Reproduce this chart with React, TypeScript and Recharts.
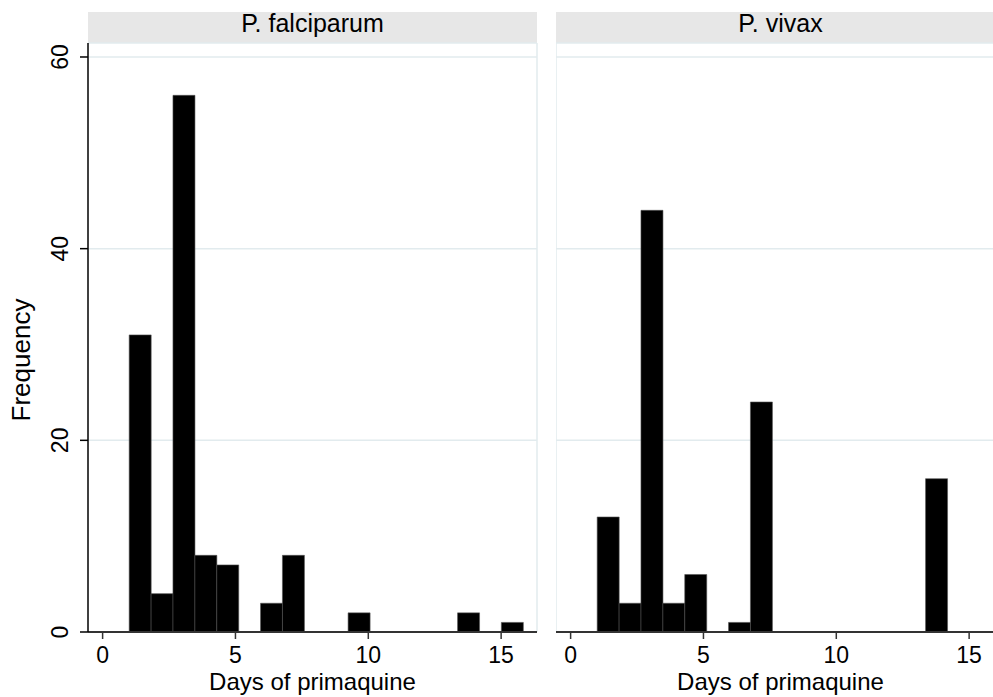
import React from 'react';
import { BarChart, Bar, XAxis, YAxis, CartesianGrid, ReferenceLine } from 'recharts';

// Histogram bins (days of primaquine)
const binStart = 1;
const binWidth = 0.824;
const falciparumCounts = [31, 4, 56, 8, 7, 0, 3, 8, 0, 0, 2, 0, 0, 0, 0, 2, 0, 1];
const vivaxCounts = [12, 3, 44, 3, 6, 0, 1, 24, 0, 0, 0, 0, 0, 0, 0, 16, 0, 0];
const panelTitles = ['P. falciparum', 'P. vivax'];
const xTicks = [0, 5, 10, 15];
const yTicks = [0, 20, 40, 60];
const xDomain: [number, number] = [-0.55, 16.35];
const yDomain: [number, number] = [0, 61.46];
const xTitle = 'Days of primaquine';
const yTitle = 'Frequency';

const FONT = '"Liberation Sans", Arial, Helvetica, sans-serif';
const GRID = '#e2ebee';

const toRows = (counts: number[]) =>
  counts.map((count, i) => ({ mid: binStart + (i + 0.5) * binWidth, count }));

const YTick = (props: any) => {
  const { x, y, payload } = props;
  return (
    <text
      transform={`translate(${x},${y}) rotate(-90)`}
      textAnchor="middle"
      fontSize={23}
      fill="#000"
      fontFamily={FONT}
    >
      {payload.value}
    </text>
  );
};

function Panel({ counts, showY, left, title }: { counts: number[]; showY: boolean; left: number; title: string }) {
  const chartWidth = showY ? 545 : 457;
  const plotLeft = showY ? 88 : 0;
  return (
    <>
      <div
        style={{
          position: 'absolute',
          left: left + plotLeft,
          top: 12,
          width: 449,
          height: 31,
          background: '#e7e7e7',
          textAlign: 'center',
          fontFamily: FONT,
          fontSize: 25,
          lineHeight: '23px',
          color: '#000',
          whiteSpace: 'nowrap',
        }}
      >
        {title}
      </div>
      <div
        style={{
          position: 'absolute',
          left: left + plotLeft,
          top: 670,
          width: 449,
          height: 25,
          textAlign: 'center',
          fontFamily: FONT,
          fontSize: 24,
          lineHeight: '24px',
          color: '#000',
          whiteSpace: 'nowrap',
        }}
      >
        {xTitle}
      </div>
      <div style={{ position: 'absolute', left, top: 0 }}>
        <BarChart
          width={chartWidth}
          height={697}
          data={toRows(counts)}
          margin={{ top: 43, right: 8, bottom: 0, left: 0 }}
          barCategoryGap={0}
          barGap={0}
        >
          <CartesianGrid horizontal vertical={false} stroke={GRID} strokeWidth={1.5} />
          <ReferenceLine x={showY ? xDomain[1] : xDomain[0]} stroke={GRID} strokeWidth={1.5} />
          <Bar dataKey="count" fill="#000" stroke="#555" strokeWidth={0.6} isAnimationActive={false} />
          <XAxis
            type="number"
            dataKey="mid"
            domain={xDomain}
            ticks={xTicks}
            allowDataOverflow
            interval={0}
            height={65}
            tickSize={7}
            tickMargin={8}
            axisLine={{ stroke: '#333', strokeWidth: 2 }}
            tickLine={{ stroke: '#333', strokeWidth: 1.5 }}
            tick={{ fontSize: 23, fill: '#000', fontFamily: FONT }}
          />
          <YAxis
            type="number"
            domain={yDomain}
            ticks={yTicks}
            allowDataOverflow
            interval={0}
            hide={!showY}
            width={88}
            tickSize={8}
            tickMargin={12}
            tick={<YTick />}
            axisLine={{ stroke: '#000', strokeWidth: 1.5 }}
            tickLine={{ stroke: '#000', strokeWidth: 1.5 }}
          />
        </BarChart>
      </div>
    </>
  );
}

export default function App() {
  return (
    <div
      style={{
        position: 'fixed',
        left: 0,
        top: 0,
        width: 993,
        height: 697,
        overflow: 'hidden',
        background: '#fff',
      }}
    >
      <Panel counts={falciparumCounts} showY left={0} title={panelTitles[0]} />
      <Panel counts={vivaxCounts} showY={false} left={556} title={panelTitles[1]} />
      <div
        style={{
          position: 'absolute',
          left: 21 - 100,
          top: 360 - 13,
          width: 200,
          height: 26,
          textAlign: 'center',
          fontFamily: FONT,
          fontSize: 26,
          lineHeight: '26px',
          color: '#000',
          transform: 'rotate(-90deg)',
          whiteSpace: 'nowrap',
        }}
      >
        {yTitle}
      </div>
    </div>
  );
}
